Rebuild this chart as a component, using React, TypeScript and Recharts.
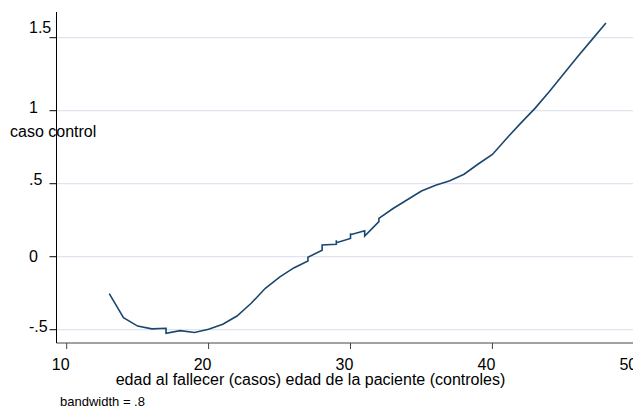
import { LineChart, Line, XAxis, YAxis, ReferenceLine, Label } from 'recharts';

// lowess fit (repeated ages give the little vertical ticks)
const ages = [13, 14, 15, 16, 17, 17, 18, 19, 20, 21, 22, 23, 24, 25, 26, 27, 27, 28, 28, 29, 29, 29, 30, 30, 30, 31, 31, 32, 32, 33, 34, 35, 36, 37, 38, 39, 40, 41, 42, 43, 44, 45, 46, 47, 48];
const fitted = [-0.253, -0.417, -0.475, -0.494, -0.49, -0.524, -0.506, -0.519, -0.497, -0.463, -0.406, -0.319, -0.216, -0.14, -0.077, -0.03, -0.004, 0.045, 0.08, 0.085, 0.112, 0.096, 0.125, 0.16, 0.15, 0.178, 0.142, 0.24, 0.262, 0.33, 0.39, 0.45, 0.49, 0.52, 0.565, 0.635, 0.7, 0.81, 0.915, 1.016, 1.13, 1.25, 1.37, 1.485, 1.6];

const xTicks = [10, 20, 30, 40, 50];
const yTicks = [-0.5, 0, 0.5, 1, 1.5];
const xTitle = 'edad al fallecer (casos) edad de la paciente (controles)';
const yTitle = 'caso control';
const note = 'bandwidth = .8';

const data = ages.map((age, i) => ({ age, fit: fitted[i] }));

const font = '"Liberation Sans", Arial, sans-serif';

// stata writes .5 instead of 0.5
const stataNum = (v: number) => String(v).replace(/^(-?)0\./, '$1.');

// baseline offsets of the y labels relative to their tick
const yLabelShift: Record<string, number> = { '1.5': -4.4, '1': 2.6, '.5': 1.3, '0': 5, '-.5': 2 };

function YTick({ y, payload }: any) {
    const label = stataNum(payload.value);
    return (
        <text x={29} y={y + (yLabelShift[label] ?? 4)} fontSize={16} fill="#000" fontFamily={font}>
            {label}
        </text>
    );
}

function XTick({ x, y, payload }: any) {
    return (
        <text x={x - 6} y={y + 21} textAnchor="middle" fontSize={16} fill="#000" fontFamily={font}>
            {payload.value}
        </text>
    );
}

export default function App() {
    return (
        <div style={{ position: 'absolute', left: 0, top: 0, width: 633, height: 407, overflow: 'hidden', background: '#fff' }}>
            <LineChart width={660} height={407} data={data} margin={{ top: 12, right: 0, bottom: 0, left: 0 }}>
                {yTicks.map((v) => (
                    <ReferenceLine key={v} y={v} stroke="#dfe4ee" strokeWidth={1.3} />
                ))}
                <XAxis
                    dataKey="age"
                    type="number"
                    domain={[9.281, 51.81]}
                    allowDataOverflow
                    ticks={xTicks}
                    height={64}
                    tickSize={6}
                    tickMargin={0}
                    stroke="#444"
                    tick={XTick}
                    interval={0}
                >
                    <Label
                        content={() => (
                            <g fontFamily={font} fill="#000">
                                <text x={310.5} y={385} textAnchor="middle" fontSize={16}>{xTitle}</text>
                                <text x={60} y={405.5} fontSize={13}>{note}</text>
                            </g>
                        )}
                    />
                </XAxis>
                <YAxis
                    type="number"
                    domain={[-0.591, 1.676]}
                    allowDataOverflow
                    ticks={yTicks}
                    width={56.5}
                    tickSize={7}
                    stroke="#000"
                    tick={YTick}
                    interval={0}
                >
                    <Label
                        content={() => (
                            <text x={10} y={136.5} fontSize={16} fill="#000" fontFamily={font}>{yTitle}</text>
                        )}
                    />
                </YAxis>
                <Line
                    type="linear"
                    dataKey="fit"
                    stroke="#1a476f"
                    strokeWidth={1.6}
                    dot={false}
                    isAnimationActive={false}
                />
            </LineChart>
        </div>
    );
}
